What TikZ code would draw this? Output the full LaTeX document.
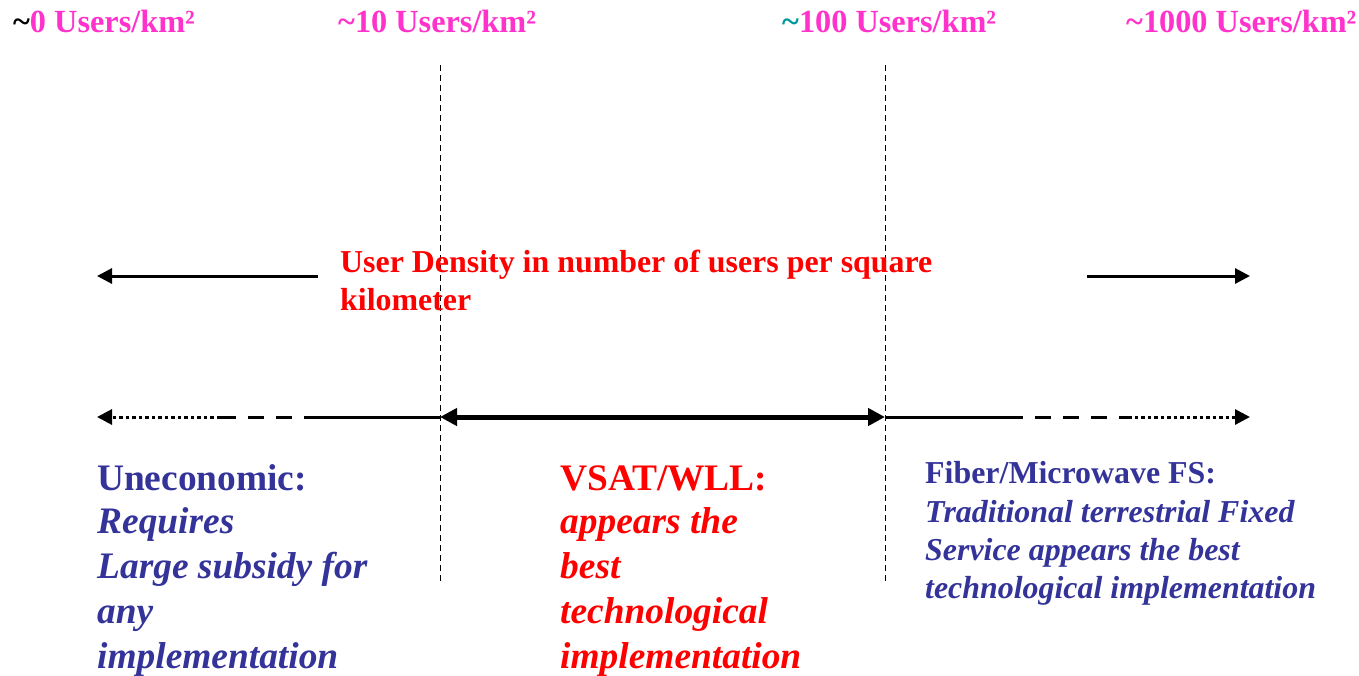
\documentclass[tikz,border=0pt]{standalone}
\usepackage{fontspec}
\setmainfont{Liberation Serif}
\usetikzlibrary{arrows.meta}
\definecolor{mag}{HTML}{FF33CC}
\definecolor{tealc}{HTML}{009999}
\definecolor{slate}{HTML}{333399}
\definecolor{redc}{HTML}{FF0000}
\tikzset{
  x=1pt, y=-1pt,
  toplbl/.style={anchor=base west, inner sep=0pt, font=\fontsize{32.3}{38}\selectfont\bfseries, text=mag},
  denslbl/.style={anchor=base west, inner sep=0pt, font=\fontsize{31.9}{38}\selectfont\bfseries, text=redc},
  bigtxt/.style={anchor=base west, inner sep=0pt, font=\fontsize{37.4}{45}\selectfont\bfseries},
  smtxt/.style={anchor=base west, inner sep=0pt, font=\fontsize{31.9}{38}\selectfont\bfseries, text=slate},
  vline/.style={line width=1pt, dash pattern=on 6pt off 4pt},
  tip/.style={-{Triangle[length=15pt,width=15pt]}},
  thin/.style={line width=3pt},
}
\begin{document}
\begin{tikzpicture}
\useasboundingbox (0,0) rectangle (1359,675);
% top labels
\node[toplbl] (t0) at (13,32) {\textcolor{black}{\textasciitilde}0 Users/km²};
\node[toplbl] (t1) at (338,32) {\textasciitilde 10 Users/km²};
\node[toplbl] (t2) at (782,32) {\textcolor{tealc}{\textasciitilde}100 Users/km²};
\node[toplbl] (t3) at (1126,32) {\textasciitilde 1000 Users/km²};
% vertical dashed lines
\coordinate (v1t) at (440,65); \coordinate (v1b) at (440,582);
\coordinate (v2t) at (885,65); \coordinate (v2b) at (885,582);
\draw[vline] (v1t) -- (v1b);
\draw[vline] (v2t) -- (v2b);
% top arrows
\coordinate (a1s) at (318,276); \coordinate (a1e) at (97,276);
\coordinate (a2s) at (1087,276); \coordinate (a2e) at (1250,276);
\draw[thin, tip] (a1s) -- (a1e);
\draw[thin, tip] (a2s) -- (a2e);
\node[denslbl] (d1) at (340,272) {User Density in number of users per square};
\node[denslbl] (d2) at (340,310) {kilometer};
% bottom axis
\coordinate (b0) at (97,417); \coordinate (b1) at (220,417);
\coordinate (b2) at (320,417); \coordinate (b3) at (440,417);
\coordinate (b4) at (885,417); \coordinate (b5) at (1007,417);
\coordinate (b6) at (1128,417); \coordinate (b7) at (1250,417);
\draw[thin, tip, dash pattern=on 3.5pt off 3pt] (b1) -- (b0);
\draw[thin, dash pattern=on 16pt off 12pt] (b1) -- (b2);
\draw[thin] (b2) -- (b3);
\draw[line width=5pt, {Triangle[length=17pt,width=17pt]}-{Triangle[length=17pt,width=17pt]}] (b3) -- (b4);
\draw[thin] (b4) -- (b5);
\draw[thin, dash pattern=on 16pt off 12pt] (b5) -- (b6);
\draw[thin, tip, dash pattern=on 3.5pt off 3pt] (b6) -- (b7);
% left text
\node[bigtxt, text=slate] (u0) at (97,490) {Uneconomic:};
\node[bigtxt, text=slate] (u1) at (97,533) {\itshape Requires};
\node[bigtxt, text=slate] (u2) at (97,578) {\itshape Large subsidy for};
\node[bigtxt, text=slate] (u3) at (97,623) {\itshape any};
\node[bigtxt, text=slate] (u4) at (97,668) {\itshape implementation};
% middle text
\node[bigtxt, text=redc] (m0) at (560,490) {VSAT/WLL:};
\node[bigtxt, text=redc] (m1) at (560,533) {\itshape appears the};
\node[bigtxt, text=redc] (m2) at (560,578) {\itshape best};
\node[bigtxt, text=redc] (m3) at (560,623) {\itshape technological};
\node[bigtxt, text=redc] (m4) at (560,668) {\itshape implementation};
% right text
\node[smtxt] (f0) at (925,483) {Fiber/Microwave FS:};
\node[smtxt] (f1) at (925,522) {\itshape Traditional terrestrial Fixed};
\node[smtxt] (f2) at (925,560) {\itshape Service appears the best};
\node[smtxt] (f3) at (925,598) {\itshape technological implementation};
\end{tikzpicture}
\end{document}
